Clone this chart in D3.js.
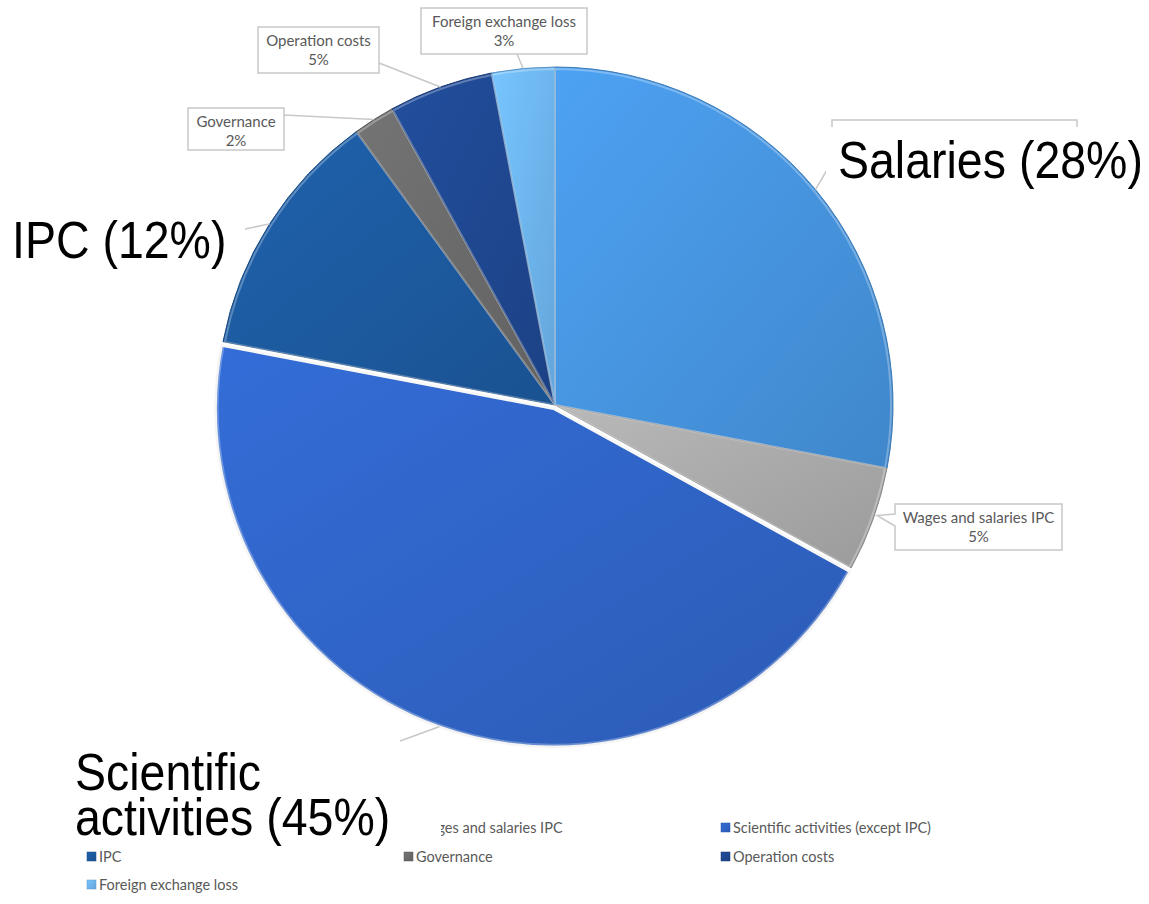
<!DOCTYPE html>
<html>
<head>
<meta charset="utf-8">
<script src="https://cdn.jsdelivr.net/npm/d3@7"></script>
<style>
  body { margin: 0; background: #fff; }
  svg { display: block; }
</style>
</head>
<body>
<div id="draw_svg"></div>
<script>
// data
const categories = ["Salaries", "Wages and salaries IPC", "Scientific activities (except IPC)",
                    "IPC", "Governance", "Operation costs", "Foreign exchange loss"];
const shares = [28, 5, 45, 12, 2, 5, 3];
const sliceColors = ["#4694de", "#a9a9a9", "#3064c6", "#1c5a9e", "#6a6a6a", "#1f4790", "#6db4ef"];
const bigLabels = ["Salaries (28%)", "IPC (12%)", "Scientific", "activities (45%)"];

const W = 1149, H = 904;
const cx = 555, cy = 405, R = 338;

const svg = d3.select('#draw_svg')
  .append('svg')
  .attr('width', W)
  .attr('height', H);

svg.append('rect').attr('width', W).attr('height', H).attr('fill', '#fff');

const defs = svg.append('defs');
sliceColors.forEach((c, i) => {
  const g = defs.append('linearGradient')
    .attr('id', 'g' + i)
    .attr('x1', '0').attr('y1', '0').attr('x2', '1').attr('y2', '1');
  g.append('stop').attr('offset', '0%').attr('stop-color', d3.color(c).brighter(0.25));
  g.append('stop').attr('offset', '100%').attr('stop-color', d3.color(c).darker(0.25));
});

const pieData = d3.pie().sort(null).value(d => d)(shares);
const arc = d3.arc().innerRadius(0).outerRadius(R);
const inner = d3.arc().innerRadius(0).outerRadius(R - 2);
const edge = d3.arc().innerRadius(R).outerRadius(R);

// scientific activities slice is pulled out a little
const explode = (d, i) => {
  if (i !== 2) return [0, 0];
  const a = (d.startAngle + d.endAngle) / 2;
  return [Math.sin(a) * 4, -Math.cos(a) * 4];
};

const pieG = svg.append('g').attr('transform', `translate(${cx},${cy})`);

const slices = pieG.selectAll('g.slice')
  .data(pieData)
  .enter()
  .append('g')
  .attr('class', 'slice')
  .attr('transform', (d, i) => `translate(${explode(d, i)})`);

slices.append('path')
  .attr('d', arc)
  .attr('fill', (d, i) => `url(#g${i})`)
  .attr('stroke', (d, i) => i === 2 ? '#f4f4f4' : d3.color(sliceColors[i]).darker(0.6))
  .attr('stroke-width', (d, i) => i === 2 ? 2.5 : 1);

slices.append('path')
  .attr('d', inner)
  .attr('fill', 'none')
  .attr('stroke', 'rgba(255,255,255,0.28)')
  .attr('stroke-width', 2);

// point on the pie edge at the middle of a slice
const edgePt = (i) => {
  const c = edge.centroid(pieData[i]);
  const o = explode(pieData[i], i);
  return [cx + c[0] + o[0], cy + c[1] + o[1]];
};

const boxFont = 'Lato, "Open Sans", sans-serif';
const boxSize = 15;

// small callout boxes
const callouts = [
  {i: 6, x: 421, y: 8, w: 166, h: 46, ax: 517, ay: 54},
  {i: 5, x: 258, y: 27, w: 121, h: 46, ax: 379, ay: 63},
  {i: 4, x: 188, y: 108, w: 96, h: 42, ax: 284, ay: 115}
];

callouts.forEach(c => {
  const p = edgePt(c.i);
  svg.append('line')
    .attr('x1', c.ax).attr('y1', c.ay).attr('x2', p[0]).attr('y2', p[1])
    .attr('stroke', '#c8c8c8').attr('stroke-width', 1.5);
  svg.append('rect')
    .attr('x', c.x).attr('y', c.y).attr('width', c.w).attr('height', c.h)
    .attr('fill', '#fff').attr('stroke', '#c8c8c8').attr('stroke-width', 1.5);
  svg.append('text')
    .attr('x', c.x + c.w / 2).attr('y', c.y + 19)
    .attr('text-anchor', 'middle')
    .attr('font-family', boxFont).attr('font-size', boxSize).attr('fill', '#595959')
    .text(categories[c.i]);
  svg.append('text')
    .attr('x', c.x + c.w / 2).attr('y', c.y + 38)
    .attr('text-anchor', 'middle')
    .attr('font-family', boxFont).attr('font-size', boxSize).attr('fill', '#595959')
    .text(shares[c.i] + '%');
});

// wages callout with pointer
(() => {
  const p = edgePt(1);
  const x = 895, y = 504, w = 167, h = 46;
  svg.append('path')
    .attr('d', `M${x},${y} H${x + w} V${y + h} H${x} V${y + 22} L${p[0] + 4},${p[1] - 4} L${x},${y + 10} Z`)
    .attr('fill', '#fff').attr('stroke', '#c8c8c8').attr('stroke-width', 1.5);
  svg.append('text')
    .attr('x', x + w / 2).attr('y', y + 19).attr('text-anchor', 'middle')
    .attr('font-family', boxFont).attr('font-size', boxSize).attr('fill', '#595959')
    .text(categories[1]);
  svg.append('text')
    .attr('x', x + w / 2).attr('y', y + 38).attr('text-anchor', 'middle')
    .attr('font-family', boxFont).attr('font-size', boxSize).attr('fill', '#595959')
    .text(shares[1] + '%');
})();

// legend
const legCols = [87, 404, 721];
const legRows = [828, 857, 885];
const legend = svg.append('g');
categories.forEach((name, i) => {
  const lx = legCols[i % 3], ly = legRows[Math.floor(i / 3)];
  legend.append('rect')
    .attr('x', lx).attr('y', ly - 5).attr('width', 9).attr('height', 9)
    .attr('fill', `url(#g${i})`).attr('stroke', d3.color(sliceColors[i]).darker(0.5)).attr('stroke-width', 0.5);
  legend.append('text')
    .attr('x', lx + 12).attr('y', ly + 5)
    .attr('font-family', boxFont).attr('font-size', 14.5).attr('fill', '#595959')
    .text(name);
});

// salaries: original callout box, then the big label over it
(() => {
  const p = edgePt(0);
  svg.append('line')
    .attr('x1', 830).attr('y1', 165).attr('x2', p[0]).attr('y2', p[1])
    .attr('stroke', '#c8c8c8').attr('stroke-width', 1.5);
  svg.append('rect')
    .attr('x', 832).attr('y', 120).attr('width', 245).attr('height', 70)
    .attr('fill', '#fff').attr('stroke', '#c8c8c8').attr('stroke-width', 1.5);
})();

// IPC leader
(() => {
  const p = edgePt(3);
  svg.append('line')
    .attr('x1', 245).attr('y1', 229).attr('x2', p[0]).attr('y2', p[1])
    .attr('stroke', '#c8c8c8').attr('stroke-width', 1.5);
})();

// scientific leader
(() => {
  const p = edgePt(2);
  svg.append('line')
    .attr('x1', 400).attr('y1', 741).attr('x2', p[0]).attr('y2', p[1])
    .attr('stroke', '#c8c8c8').attr('stroke-width', 1.5);
})();

// big labels (slightly stretched tall, as in the picture)
const bigFont = '"Liberation Sans", Arial, sans-serif';
const big = [
  {t: bigLabels[0], x: 838, y: 178, bx: 826, by: 127, bw: 262, bh: 66},
  {t: bigLabels[1], x: 12, y: 258, bx: 8, by: 210, bw: 232, bh: 62},
  {t: bigLabels[2], x: 75, y: 790, bx: 0, by: 743, bw: 441, bh: 103},
  {t: bigLabels[3], x: 75, y: 835, bx: 0, by: 0, bw: 0, bh: 0}
];
big.forEach(b => {
  if (b.bw > 0) {
    svg.append('rect')
      .attr('x', b.bx).attr('y', b.by).attr('width', b.bw).attr('height', b.bh)
      .attr('fill', '#fff');
  }
});
big.forEach(b => {
  svg.append('text')
    .attr('transform', `translate(${b.x},${b.y}) scale(1,1.1)`)
    .attr('font-family', bigFont).attr('font-size', 46.5).attr('fill', '#000')
    .text(b.t);
});
</script>
</body>
</html>
